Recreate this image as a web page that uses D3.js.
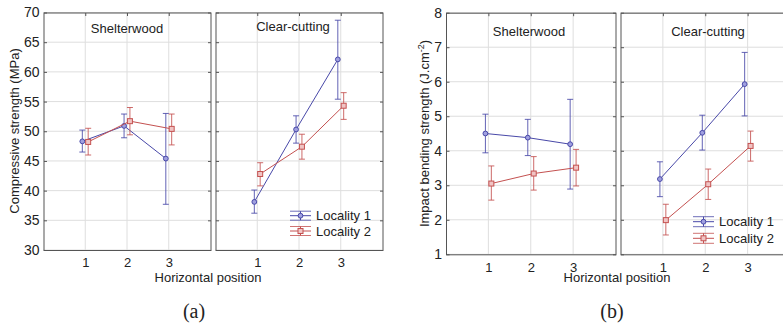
<!DOCTYPE html>
<html>
<head>
<meta charset="utf-8">
<script src="https://cdn.jsdelivr.net/npm/d3@7"></script>
<style>
  body { margin: 0; background: #fff; }
  svg { display: block; font-family: 'Liberation Sans', Arial, sans-serif; }
</style>
</head>
<body>
<svg id="chart" width="783" height="327"></svg>
<script>
const positions = [1, 2, 3];

// [mean, lower, upper] per horizontal position
const compShelterL1 = [[48.3, 46.5, 50.2], [50.9, 48.9, 52.9], [45.4, 37.7, 53.0]];
const compShelterL2 = [[48.2, 46.0, 50.5], [51.7, 49.4, 54.0], [50.4, 47.7, 52.9]];
const compClearL1 = [[38.1, 36.2, 40.1], [50.3, 48.0, 52.6], [62.1, 55.4, 68.7]];
const compClearL2 = [[42.8, 40.8, 44.7], [47.4, 45.3, 49.5], [54.3, 52.0, 56.5]];

const impShelterL1 = [[4.50, 3.94, 5.06], [4.38, 3.86, 4.91], [4.19, 2.89, 5.49]];
const impShelterL2 = [[3.05, 2.57, 3.56], [3.34, 2.86, 3.83], [3.51, 2.98, 4.04]];
const impClearL1 = [[3.18, 2.67, 3.68], [4.52, 4.02, 5.03], [5.93, 5.01, 6.85]];
const impClearL2 = [[1.99, 1.56, 2.45], [3.03, 2.59, 3.47], [4.14, 3.70, 4.57]];

const compTicks = [30, 35, 40, 45, 50, 55, 60, 65, 70];
const impTicks = [1, 2, 3, 4, 5, 6, 7, 8];
const seriesNames = ['Locality 1', 'Locality 2'];

const blue = '#4848a8';
const red = '#c45150';
const frameColor = '#555';
const gridColor = '#dedede';
const offsets = [-0.07, 0.07]; // loc 1 left, loc 2 right
const intFmt = d3.format('d');

const svg = d3.select('#chart');

const drawFigure = (cfg) => {
  const y = d3.scaleLinear().domain(cfg.yDomain).range([cfg.bottom, cfg.top]);

  cfg.panels.forEach((p, pi) => {
    const x = d3.scaleLinear().domain([0, 4]).range([p.x0, p.x1]);
    const g = svg.append('g');

    // gridlines
    g.selectAll('.hgrid').data(cfg.ticks).enter().append('line')
      .attr('x1', p.x0).attr('x2', p.x1)
      .attr('y1', (d) => y(d)).attr('y2', (d) => y(d))
      .attr('stroke', gridColor);
    g.selectAll('.vgrid').data(positions).enter().append('line')
      .attr('y1', cfg.top).attr('y2', cfg.bottom)
      .attr('x1', (d) => x(d)).attr('x2', (d) => x(d))
      .attr('stroke', gridColor);

    // frame with small inward ticks
    g.append('rect')
      .attr('x', p.x0 + 0.5).attr('y', cfg.top + 0.5)
      .attr('width', p.x1 - p.x0).attr('height', cfg.bottom - cfg.top)
      .attr('fill', 'none').attr('stroke', frameColor);
    [p.x0, p.x1].forEach((ex, k) => {
      g.selectAll(null).data(cfg.ticks).enter().append('line')
        .attr('x1', ex + 0.5).attr('x2', ex + 0.5 + (k === 0 ? 3 : -3))
        .attr('y1', (d) => y(d) + 0.5).attr('y2', (d) => y(d) + 0.5)
        .attr('stroke', frameColor);
    });
    g.selectAll(null).data(positions).enter().append('line')
      .attr('x1', (d) => x(d) + 0.5).attr('x2', (d) => x(d) + 0.5)
      .attr('y1', cfg.top + 0.5).attr('y2', cfg.top + 3.5)
      .attr('stroke', frameColor);

    // y axis labels only on left panel
    if (pi === 0) {
      const ya = svg.append('g')
        .attr('transform', `translate(${p.x0},0)`)
        .call(d3.axisLeft(y).tickValues(cfg.ticks).tickFormat(intFmt).tickSize(0).tickPadding(4));
      ya.select('.domain').remove();
      ya.selectAll('text').attr('font-size', 14).attr('fill', '#222')
        .attr('font-family', 'Liberation Sans, Arial, sans-serif');
    }
    const xa = svg.append('g')
      .attr('transform', `translate(0,${cfg.bottom})`)
      .call(d3.axisBottom(x).tickValues(positions).tickFormat(intFmt).tickSize(0).tickPadding(cfg.xPad));
    xa.select('.domain').remove();
    xa.selectAll('text').attr('font-size', 13).attr('fill', '#222')
      .attr('font-family', 'Liberation Sans, Arial, sans-serif');

    // panel title
    g.append('text')
      .attr('x', p.titleX).attr('y', p.titleY)
      .attr('text-anchor', 'middle').attr('font-size', 13).attr('fill', '#222')
      .text(p.title);

    // series
    p.series.forEach((data, si) => {
      const color = si === 0 ? blue : red;
      const px = (i) => x(positions[i] + offsets[si]);
      const line = d3.line().x((d, i) => px(i)).y((d) => y(d[0]));
      g.append('path').datum(data)
        .attr('d', line).attr('fill', 'none')
        .attr('stroke', color).attr('stroke-width', 1);
      const eb = g.selectAll(null).data(data).enter().append('g')
        .attr('stroke', color).attr('stroke-opacity', 0.85);
      eb.append('line')
        .attr('x1', (d, i) => px(i)).attr('x2', (d, i) => px(i))
        .attr('y1', (d) => y(d[1])).attr('y2', (d) => y(d[2]));
      [1, 2].forEach((k) => {
        eb.append('line')
          .attr('x1', (d, i) => px(i) - 3).attr('x2', (d, i) => px(i) + 3)
          .attr('y1', (d) => y(d[k])).attr('y2', (d) => y(d[k]));
      });
      if (si === 0) {
        g.selectAll(null).data(data).enter().append('circle')
          .attr('cx', (d, i) => px(i)).attr('cy', (d) => y(d[0]))
          .attr('r', 2.4).attr('fill', '#a0a0e0').attr('stroke', color);
      } else {
        g.selectAll(null).data(data).enter().append('rect')
          .attr('x', (d, i) => px(i) - 2.5).attr('y', (d) => y(d[0]) - 2.5)
          .attr('width', 5).attr('height', 5)
          .attr('fill', '#f0c4c4').attr('stroke', color);
      }
    });
  });

  // legend
  seriesNames.forEach((name, si) => {
    const color = si === 0 ? blue : red;
    const ly = cfg.legend.y + si * cfg.legend.dy;
    const lg = svg.append('g').attr('stroke', color);
    const lx0 = cfg.legend.x, lx1 = cfg.legend.x + 21, cx = (lx0 + lx1) / 2;
    [-cfg.legend.cap, 0, cfg.legend.cap].forEach((o) => {
      lg.append('line').attr('x1', lx0).attr('x2', lx1)
        .attr('y1', ly + o).attr('y2', ly + o)
        .attr('stroke-opacity', o === 0 ? 1 : 0.8);
    });
    lg.append('line').attr('x1', cx).attr('x2', cx)
      .attr('y1', ly - cfg.legend.cap).attr('y2', ly + cfg.legend.cap);
    if (si === 0) {
      lg.append('circle').attr('cx', cx).attr('cy', ly).attr('r', 2.4).attr('fill', '#a0a0e0');
    } else {
      lg.append('rect').attr('x', cx - 2.5).attr('y', ly - 2.5)
        .attr('width', 5).attr('height', 5).attr('fill', '#f0c4c4');
    }
    svg.append('text')
      .attr('x', lx1 + 5).attr('y', ly + 4.7)
      .attr('font-size', 13).attr('fill', '#222')
      .text(name);
  });

  // axis titles
  svg.append('text')
    .attr('x', cfg.xTitle[0]).attr('y', cfg.xTitle[1])
    .attr('text-anchor', 'middle').attr('font-size', 13).attr('fill', '#222')
    .text('Horizontal position');
  const yt = svg.append('text')
    .attr('transform', `translate(${cfg.yTitle[0]},${cfg.yTitle[1]}) rotate(-90)`)
    .attr('text-anchor', 'middle').attr('font-size', 13).attr('fill', '#222');
  cfg.yTitleParts.forEach((part) => {
    const t = yt.append('tspan').text(part.text);
    if (part.sup) t.attr('baseline-shift', 'super').attr('font-size', 9);
  });

  // caption
  svg.append('text')
    .attr('x', cfg.caption[0]).attr('y', cfg.caption[1])
    .attr('text-anchor', 'middle').attr('font-size', 20)
    .attr('font-family', 'Liberation Serif, DejaVu Serif, serif').attr('fill', '#222')
    .text(cfg.captionText);
};

drawFigure({
  yDomain: [30, 70], top: 12.5, bottom: 250, ticks: compTicks, xPad: 7.5,
  panels: [
    { x0: 43.5, x1: 210.5, title: 'Shelterwood', titleX: 127, titleY: 33, series: [compShelterL1, compShelterL2] },
    { x0: 215.5, x1: 382.5, title: 'Clear-cutting', titleX: 293, titleY: 31, series: [compClearL1, compClearL2] },
  ],
  legend: { x: 290, y: 215.7, dy: 15.3, cap: 4.5 },
  xTitle: [208, 281.5], yTitle: [18.5, 131],
  yTitleParts: [{ text: 'Compressive strength (MPa)' }],
  caption: [194, 318], captionText: '(a)',
});

drawFigure({
  yDomain: [1, 8], top: 12.7, bottom: 254.3, ticks: impTicks, xPad: 8,
  panels: [
    { x0: 446, x1: 615.5, title: 'Shelterwood', titleX: 529, titleY: 36, series: [impShelterL1, impShelterL2] },
    { x0: 620.5, x1: 790, title: 'Clear-cutting', titleX: 708, titleY: 36, series: [impClearL1, impClearL2] },
  ],
  legend: { x: 693, y: 221.7, dy: 16.6, cap: 5 },
  xTitle: [617, 281.5], yTitle: [428.5, 133.5],
  yTitleParts: [{ text: 'Impact bending strength (J.cm' }, { text: '-2', sup: true }, { text: ')' }],
  caption: [612, 318], captionText: '(b)',
});
</script>
</body>
</html>
